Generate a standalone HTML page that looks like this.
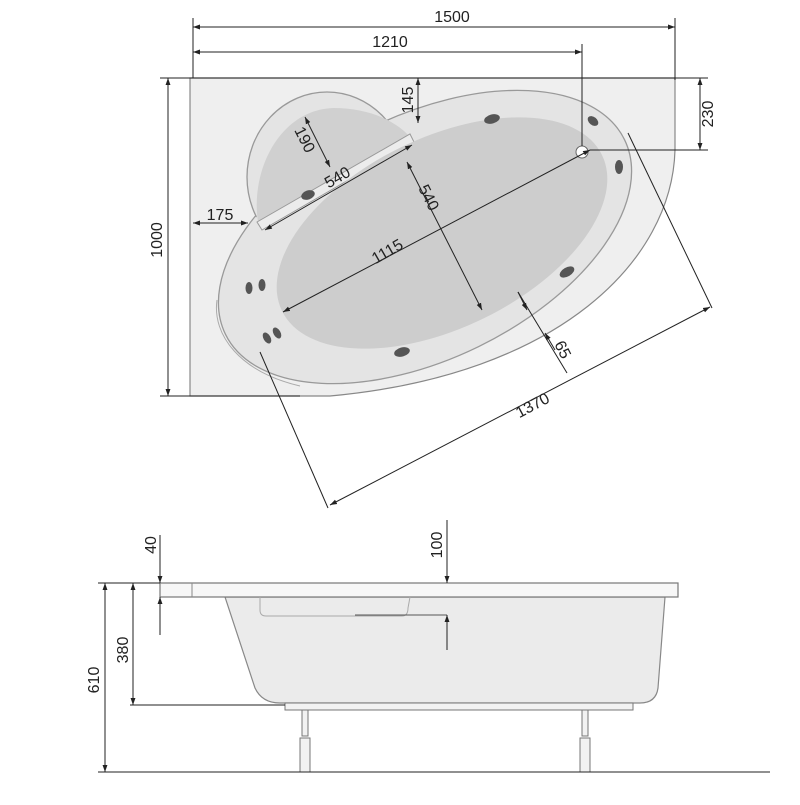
<!DOCTYPE html>
<html><head><meta charset="utf-8"><style>
html,body{margin:0;padding:0;background:#fff}
text{font-family:"Liberation Sans",sans-serif;font-size:16px;fill:#222}
</style></head><body>
<svg width="800" height="800" viewBox="0 0 800 800" xmlns="http://www.w3.org/2000/svg">
<defs>
<marker id="a" viewBox="0 0 10 10" refX="10" refY="5" markerWidth="7" markerHeight="7" orient="auto-start-reverse"><path d="M0,1.5 L10,5 L0,8.5 z" fill="#222"/></marker>
</defs>
<!-- deck -->
<path d="M190,78 L675,78 L675,150 C672,260 560,375 330,396 L190,396 Z" fill="#efefef" stroke="#888" stroke-width="1.2"/>
<!-- rim -->
<g stroke="#999" stroke-width="1.3">
<ellipse cx="425" cy="237" rx="222" ry="122" transform="rotate(-26 425 237)" fill="#e4e4e4"/>
<ellipse cx="327" cy="177" rx="80" ry="85" fill="#e4e4e4"/>
</g>
<ellipse cx="425" cy="237" rx="220.5" ry="120.5" transform="rotate(-26 425 237)" fill="#e4e4e4"/>
<ellipse cx="327" cy="177" rx="78.5" ry="83.5" fill="#e4e4e4"/>
<path d="M217,300 C212,335 240,372 300,386" fill="none" stroke="#aaa" stroke-width="1"/>
<!-- headrest -->
<path d="M258,222 C250,170 280,110 333,108 C368,108 395,120 410,137 Z" fill="#d0d0d0"/>
<path d="M257,222 L410,134 L414,142 L262,230 Z" fill="#ececec" stroke="#999" stroke-width="1"/>
<!-- basin -->
<ellipse cx="442" cy="233" rx="178" ry="95" transform="rotate(-26 442 233)" fill="#cdcdcd"/>
<!-- jets -->
<g fill="#555">
<ellipse cx="492" cy="119" rx="8" ry="4.5" transform="rotate(-15 492 119)"/>
<ellipse cx="593" cy="121" rx="6" ry="4" transform="rotate(40 593 121)"/>
<ellipse cx="619" cy="167" rx="4" ry="7"/>
<ellipse cx="308" cy="195" rx="7" ry="4.5" transform="rotate(-20 308 195)"/>
<ellipse cx="567" cy="272" rx="8" ry="4.5" transform="rotate(-30 567 272)"/>
<ellipse cx="249" cy="288" rx="3.5" ry="6"/>
<ellipse cx="262" cy="285" rx="3.5" ry="6"/>
<ellipse cx="267" cy="338" rx="3.5" ry="6" transform="rotate(-30 267 338)"/>
<ellipse cx="277" cy="333" rx="3.5" ry="6" transform="rotate(-30 277 333)"/>
<ellipse cx="402" cy="352" rx="8" ry="4.5" transform="rotate(-15 402 352)"/>
</g>
<circle cx="582" cy="152" r="6" fill="#fff" stroke="#666"/>
<!-- dims top -->
<g stroke="#222" stroke-width="1" fill="none">
<line x1="193" y1="18" x2="193" y2="78"/>
<line x1="675" y1="18" x2="675" y2="80"/>
<line x1="582" y1="44" x2="582" y2="146"/>
<line x1="193" y1="27" x2="675" y2="27" marker-start="url(#a)" marker-end="url(#a)"/>
<line x1="193" y1="52" x2="582" y2="52" marker-start="url(#a)" marker-end="url(#a)"/>
<line x1="160" y1="78" x2="708" y2="78"/>
<line x1="160" y1="396" x2="300" y2="396"/>
<line x1="168" y1="78" x2="168" y2="396" marker-start="url(#a)" marker-end="url(#a)"/>
<line x1="590" y1="150" x2="708" y2="150"/>
<line x1="700" y1="78" x2="700" y2="150" marker-start="url(#a)" marker-end="url(#a)"/>
<line x1="418" y1="78" x2="418" y2="123" marker-start="url(#a)" marker-end="url(#a)"/>
<line x1="193" y1="223" x2="248" y2="223" marker-start="url(#a)" marker-end="url(#a)"/>
<line x1="283" y1="312" x2="590" y2="150" marker-start="url(#a)" marker-end="url(#a)"/>
<line x1="407" y1="162" x2="482" y2="310" marker-start="url(#a)" marker-end="url(#a)"/>
<line x1="305" y1="117" x2="330" y2="167" marker-start="url(#a)" marker-end="url(#a)"/>
<line x1="265" y1="230" x2="412" y2="145" marker-start="url(#a)" marker-end="url(#a)"/>
<line x1="260" y1="352" x2="328" y2="508"/>
<line x1="628" y1="133" x2="712" y2="308"/>
<line x1="330" y1="505" x2="710" y2="307" marker-start="url(#a)" marker-end="url(#a)"/>
<line x1="518" y1="292" x2="567" y2="373"/>
<line x1="518" y1="292" x2="527" y2="310" marker-end="url(#a)"/>
<line x1="555" y1="350" x2="545" y2="333" marker-end="url(#a)"/>
</g>
<g>
<text x="452" y="22" text-anchor="middle">1500</text>
<text x="390" y="47" text-anchor="middle">1210</text>
<text transform="translate(162,240) rotate(-90)" text-anchor="middle">1000</text>
<text transform="translate(713,114) rotate(-90)" text-anchor="middle">230</text>
<text transform="translate(413,100) rotate(-90)" text-anchor="middle">145</text>
<text x="220" y="220" text-anchor="middle">175</text>
<text transform="translate(390,256) rotate(-30)" text-anchor="middle">1115</text>
<text transform="translate(424,200) rotate(63)" text-anchor="middle">540</text>
<text transform="translate(300,142) rotate(63)" text-anchor="middle">190</text>
<text transform="translate(340,182) rotate(-30)" text-anchor="middle">540</text>
<text transform="translate(535,410) rotate(-28)" text-anchor="middle">1370</text>
<text transform="translate(558,352) rotate(63)" text-anchor="middle">65</text>
</g>
<!-- side view -->
<path d="M225,597 L665,597 L658,688 Q656,703 640,703 L280,703 Q262,703 255,688 Z" fill="#ebebeb" stroke="#888" stroke-width="1.2"/>
<rect x="160" y="583" width="518" height="14" fill="#f7f7f7" stroke="#777" stroke-width="1.2"/>
<line x1="192" y1="583" x2="192" y2="597" stroke="#888"/>
<path d="M260,597 L260,610 Q260,616 266,616 L402,616 Q408,616 408,608 L410,597" fill="none" stroke="#aaa"/>
<line x1="355" y1="615" x2="447" y2="615" stroke="#555"/>
<rect x="285" y="703" width="348" height="7" fill="#f2f2f2" stroke="#777"/>
<g fill="#f2f2f2" stroke="#777">
<rect x="302" y="710" width="6" height="26"/><rect x="300" y="738" width="10" height="34"/>
<rect x="582" y="710" width="6" height="26"/><rect x="580" y="738" width="10" height="34"/>
</g>
<g stroke="#222" stroke-width="1" fill="none">
<line x1="98" y1="772" x2="770" y2="772"/>
<line x1="98" y1="583" x2="160" y2="583"/>
<line x1="130" y1="705" x2="285" y2="705"/>
<line x1="105" y1="583" x2="105" y2="772" marker-start="url(#a)" marker-end="url(#a)"/>
<line x1="133" y1="583" x2="133" y2="705" marker-start="url(#a)" marker-end="url(#a)"/>
<line x1="160" y1="535" x2="160" y2="583" marker-end="url(#a)"/>
<line x1="160" y1="635" x2="160" y2="597" marker-end="url(#a)"/>
<line x1="447" y1="520" x2="447" y2="583" marker-end="url(#a)"/>
<line x1="447" y1="650" x2="447" y2="615" marker-end="url(#a)"/>
</g>
<text transform="translate(99,680) rotate(-90)" text-anchor="middle">610</text>
<text transform="translate(128,650) rotate(-90)" text-anchor="middle">380</text>
<text transform="translate(156,545) rotate(-90)" text-anchor="middle">40</text>
<text transform="translate(442,545) rotate(-90)" text-anchor="middle">100</text>
</svg>
</body></html>
